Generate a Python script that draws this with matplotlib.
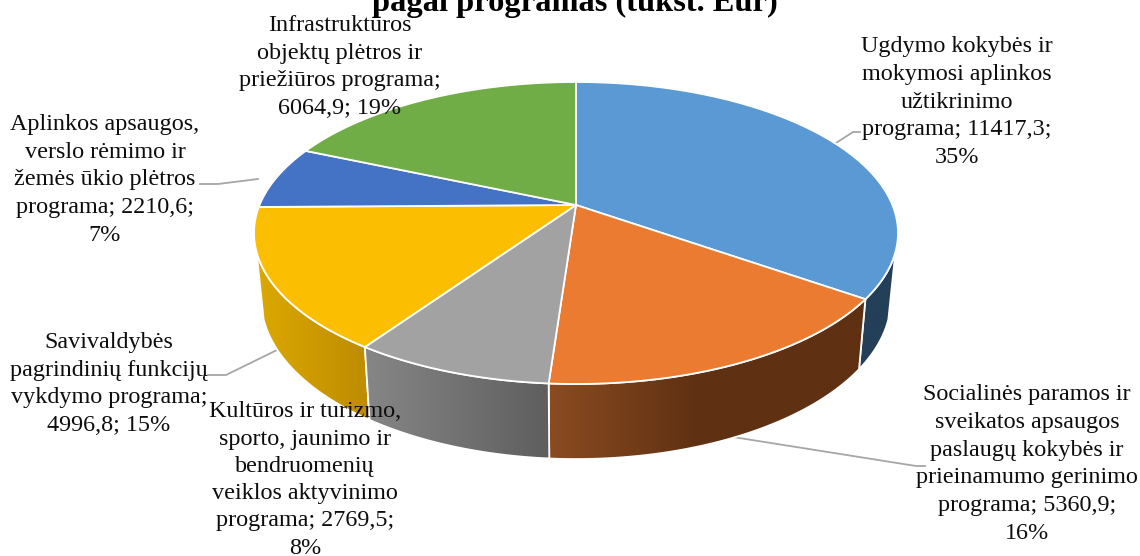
import numpy as np
import matplotlib
matplotlib.use("Agg")
import matplotlib.pyplot as plt
from matplotlib.colors import to_rgb
from matplotlib.patches import Polygon

plt.rcParams['font.family'] = ['Liberation Serif', 'DejaVu Serif']

values = [11417.3, 5360.9, 2769.5, 4996.8, 2210.6, 6064.9]
labels = [
    "Ugdymo kokybės ir\nmokymosi aplinkos\nužtikrinimo\nprograma; 11417,3;\n35%",
    "Socialinės paramos ir\nsveikatos apsaugos\npaslaugų kokybės ir\nprieinamumo gerinimo\nprograma; 5360,9;\n16%",
    "Kultūros ir turizmo,\nsporto, jaunimo ir\nbendruomenių\nveiklos aktyvinimo\nprograma; 2769,5;\n8%",
    "Savivaldybės\npagrindinių funkcijų\nvykdymo programa;\n4996,8; 15%",
    "Aplinkos apsaugos,\nverslo rėmimo ir\nžemės ūkio plėtros\nprograma; 2210,6;\n7%",
    "Infrastruktūros\nobjektų plėtros ir\npriežiūros programa;\n6064,9; 19%",
]
title = "pagal programas (tūkst. Eur)"

colors = ['#5a99d4', '#ea7b30', '#a2a2a2', '#fbbe00', '#4472c4', '#70ad47']
side_stops = [
    [(860, '#243f58'), (900, '#243f58')],
    [(550, '#8a4b20'), (700, '#5f3012'), (860, '#5f3012')],
    [(365, '#868686'), (550, '#5e5e5e')],
    [(255, '#dca900'), (369, '#bd8c00')],
    None,
    None,
]
label_pos = [(957, 102), (1027, 464), (305, 480), (109, 384), (105, 180), (340, 67)]
label_spacing = [1.425, 1.425, 1.39, 1.425, 1.425, 1.425]
leaders = [
    [(836, 143), (853, 132), (860, 132)],
    [(733, 437), (916, 466), (925, 466)],
    [(277, 350), (226, 375), (208, 375)],
    [(258, 179), (218, 184), (200, 184)],
]

CX, CY, R, B, C = 576.0, 205.0, 316.4, 145.8, 0.1854
TH_VISIBLE = (107.7, 252.3)


def top_pt(theta):
    t = np.radians(theta)
    u, v = np.sin(t), np.cos(t)
    d = 1 + C * v
    return CX + R * u / d, CY - B * v / d


def bot_pt(theta):
    x, y = top_pt(theta)
    return CX + (x - CX) * 0.978, 368 + 1.059 * (y - 298)


fig = plt.figure(figsize=(11.4, 5.56), dpi=100)
ax = fig.add_axes([0, 0, 1, 1])
ax.set_xlim(0, 1140)
ax.set_ylim(556, 0)
ax.axis('off')

edges = np.concatenate([[0], np.cumsum(values)]) / np.sum(values) * 360

# leader lines behind the pie
for pts in leaders:
    xs, ys = zip(*pts)
    ax.plot(xs, ys, color='#a6a6a6', lw=1.3, zorder=1, solid_joinstyle='miter')

# side walls, drawn left and right towards the front
order = [0, 3, 1, 2]
for i in order:
    a = max(edges[i], TH_VISIBLE[0])
    b = min(edges[i + 1], TH_VISIBLE[1])
    th = np.linspace(a, b, 160)
    tx, ty = top_pt(th)
    bx, by = bot_pt(th)
    xy = np.r_[np.c_[tx, ty], np.c_[bx, by][::-1]]
    stops = side_stops[i]
    xx = np.linspace(xy[:, 0].min(), xy[:, 0].max(), 256)
    sx = [s[0] for s in stops]
    rgb = np.array([to_rgb(s[1]) for s in stops])
    grad = np.stack([np.interp(xx, sx, rgb[:, k]) for k in range(3)], axis=-1)[None, :, :]
    poly = Polygon(xy, closed=True, fc='none', ec='white', lw=1.3, zorder=3 + order.index(i) * 0.1 + 0.05)
    im = ax.imshow(grad, extent=(xx[0], xx[-1], xy[:, 1].max(), xy[:, 1].min()),
                   aspect='auto', zorder=3 + order.index(i) * 0.1, interpolation='bilinear')
    ax.add_patch(poly)
    im.set_clip_path(poly)
ax.set_xlim(0, 1140)
ax.set_ylim(556, 0)

# top face
for i in range(len(values)):
    th = np.linspace(edges[i], edges[i + 1], 200)
    x, y = top_pt(th)
    ax.fill(np.r_[CX, x], np.r_[CY, y], fc=colors[i], ec='white', lw=1.3, zorder=5, joinstyle='round')

# labels
for (x, y), s, ls in zip(label_pos, labels, label_spacing):
    ax.text(x, y, s, ha='center', va='center', fontsize=17.4, color='#0d0d0d',
            linespacing=ls, zorder=6)

ax.text(575, 11, title, ha='center', va='baseline', fontsize=23.4, fontweight='bold',
        color='black', zorder=6)

fig.savefig('out.png', dpi=100)
